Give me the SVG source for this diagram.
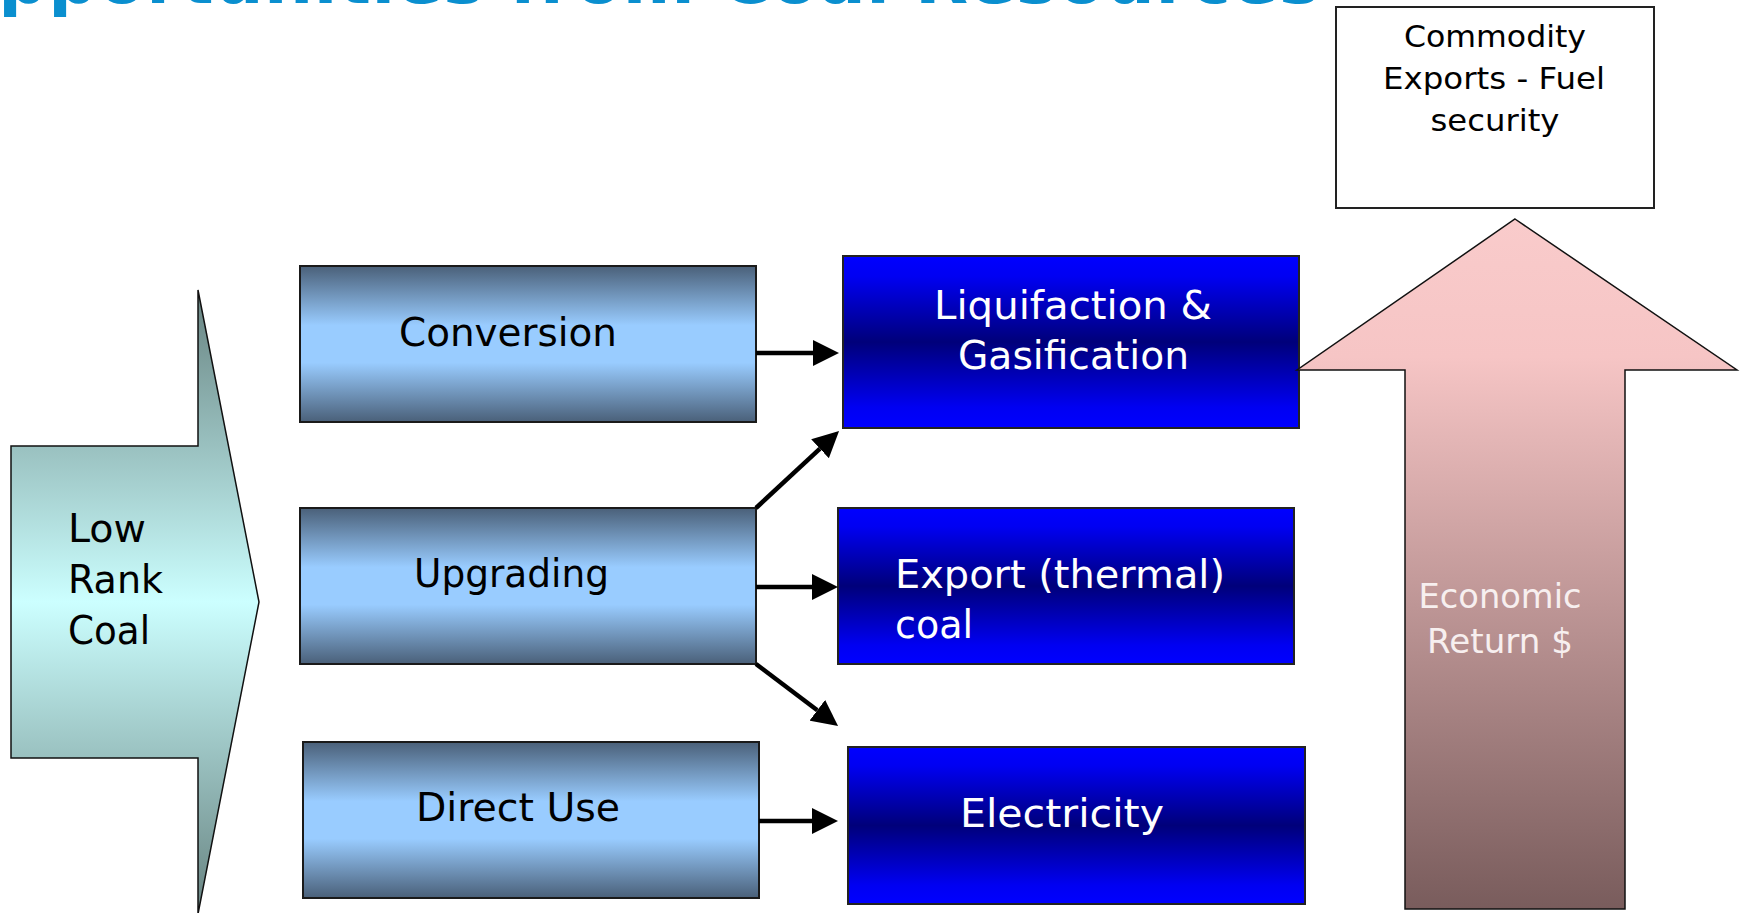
<svg xmlns="http://www.w3.org/2000/svg" width="1744" height="913" viewBox="0 0 1744 913">
  <defs>
    <linearGradient id="gSteel" x1="0" y1="0" x2="0" y2="1">
      <stop offset="0" stop-color="#4a6079"/>
      <stop offset="0.38" stop-color="#99ccff"/>
      <stop offset="0.62" stop-color="#99ccff"/>
      <stop offset="1" stop-color="#4a6079"/>
    </linearGradient>
    <linearGradient id="gBlue" x1="0" y1="0" x2="0" y2="1">
      <stop offset="0" stop-color="#0000ff"/>
      <stop offset="0.12" stop-color="#0000f2"/>
      <stop offset="0.5" stop-color="#00007a"/>
      <stop offset="0.88" stop-color="#0000f2"/>
      <stop offset="1" stop-color="#0000ff"/>
    </linearGradient>
    <linearGradient id="gCyan" x1="0" y1="0" x2="0" y2="1">
      <stop offset="0" stop-color="#678280"/>
      <stop offset="0.5" stop-color="#ccffff"/>
      <stop offset="1" stop-color="#678280"/>
    </linearGradient>
    <linearGradient id="gPink" x1="0" y1="0" x2="0" y2="1">
      <stop offset="0" stop-color="#f9cbcb"/>
      <stop offset="0.2" stop-color="#f6c5c5"/>
      <stop offset="1" stop-color="#795c5c"/>
    </linearGradient>
    <marker id="ah" markerUnits="userSpaceOnUse" markerWidth="26" markerHeight="26" refX="0" refY="13" viewBox="0 0 26 26" orient="auto">
      <path d="M0,0 L26,13 L0,26 z" fill="#000"/>
    </marker>
    <style>
      .lbl { font-family: "DejaVu Sans", "Liberation Sans", sans-serif; font-size: 39px; }
      .dark { fill: #000; }
      .light { fill: #fff; }
      .steel { fill: url(#gSteel); stroke: #1a1a1a; stroke-width: 2; }
      .blue { fill: url(#gBlue); stroke: #222; stroke-width: 2; }
      .conn { stroke: #000; stroke-width: 4.5; fill: none; marker-end: url(#ah); }
    </style>
  </defs>

  <rect x="0" y="0" width="1744" height="913" fill="#fff"/>

  <g id="title">
    <text x="-61" y="3" font-family="DejaVu Sans, Liberation Sans, sans-serif" font-weight="bold" font-size="69" fill="#0a8fcf" textLength="1381" lengthAdjust="spacing">Opportunities from Coal Resources</text>
  </g>

  <g id="low-rank-coal">
    <path d="M11,446 L198,446 L198,290 L259,602 L198,914 L198,758 L11,758 Z" fill="url(#gCyan)" stroke="#111" stroke-width="1.5"/>
    <text class="lbl dark" x="68" y="542" textLength="78" lengthAdjust="spacingAndGlyphs">Low</text>
    <text class="lbl dark" x="68" y="593" textLength="95" lengthAdjust="spacingAndGlyphs">Rank</text>
    <text class="lbl dark" x="68" y="644" textLength="82" lengthAdjust="spacingAndGlyphs">Coal</text>
  </g>

  <g id="conversion">
    <rect class="steel" x="300" y="266" width="456" height="156"/>
    <text class="lbl dark" x="399" y="346" textLength="218" lengthAdjust="spacingAndGlyphs">Conversion</text>
  </g>

  <g id="upgrading">
    <rect class="steel" x="300" y="508" width="456" height="156"/>
    <text class="lbl dark" x="414" y="587" textLength="195" lengthAdjust="spacingAndGlyphs">Upgrading</text>
  </g>

  <g id="direct-use">
    <rect class="steel" x="303" y="742" width="456" height="156"/>
    <text class="lbl dark" x="416" y="821" textLength="204" lengthAdjust="spacingAndGlyphs">Direct Use</text>
  </g>

  <g id="liquifaction">
    <rect class="blue" x="843" y="256" width="456" height="172"/>
    <text class="lbl light" x="934" y="319" textLength="278" lengthAdjust="spacingAndGlyphs">Liquifaction &amp;</text>
    <text class="lbl light" x="958" y="369" textLength="231" lengthAdjust="spacingAndGlyphs">Gasification</text>
  </g>

  <g id="export">
    <rect class="blue" x="838" y="508" width="456" height="156"/>
    <text class="lbl light" x="895" y="588" textLength="330" lengthAdjust="spacingAndGlyphs">Export (thermal)</text>
    <text class="lbl light" x="895" y="638" textLength="78" lengthAdjust="spacingAndGlyphs">coal</text>
  </g>

  <g id="electricity">
    <rect class="blue" x="848" y="747" width="457" height="157"/>
    <text class="lbl light" x="960" y="827" textLength="204" lengthAdjust="spacingAndGlyphs">Electricity</text>
  </g>

  <g id="economic-return">
    <path d="M1515,219 L1737,370 L1625,370 L1625,909 L1405,909 L1405,370 L1297,370 Z" fill="url(#gPink)" stroke="#111" stroke-width="1.5"/>
    <text x="1500" y="608" text-anchor="middle" font-family="DejaVu Sans, Liberation Sans, sans-serif" font-size="33" fill="#f7efef" textLength="163" lengthAdjust="spacingAndGlyphs">Economic</text>
    <text x="1500" y="653" text-anchor="middle" font-family="DejaVu Sans, Liberation Sans, sans-serif" font-size="33" fill="#f7efef" textLength="146" lengthAdjust="spacingAndGlyphs">Return $</text>
  </g>

  <g id="commodity-exports">
    <rect x="1336" y="7" width="318" height="201" fill="#fff" stroke="#222" stroke-width="2"/>
    <text x="1495" y="47" text-anchor="middle" font-family="DejaVu Sans, Liberation Sans, sans-serif" font-size="31" fill="#000" textLength="182" lengthAdjust="spacingAndGlyphs">Commodity</text>
    <text x="1494" y="89" text-anchor="middle" font-family="DejaVu Sans, Liberation Sans, sans-serif" font-size="31" fill="#000" textLength="222" lengthAdjust="spacingAndGlyphs">Exports - Fuel</text>
    <text x="1495" y="131" text-anchor="middle" font-family="DejaVu Sans, Liberation Sans, sans-serif" font-size="31" fill="#000" textLength="129" lengthAdjust="spacingAndGlyphs">security</text>
  </g>

  <g id="connectors">
    <line class="conn" x1="756" y1="353" x2="813" y2="353"/>
    <line class="conn" x1="756" y1="508" x2="820" y2="448.7"/>
    <line class="conn" x1="756" y1="587" x2="812" y2="587"/>
    <line class="conn" x1="756" y1="664" x2="817.3" y2="710.3"/>
    <line class="conn" x1="759" y1="821" x2="812" y2="821"/>
  </g>
</svg>
